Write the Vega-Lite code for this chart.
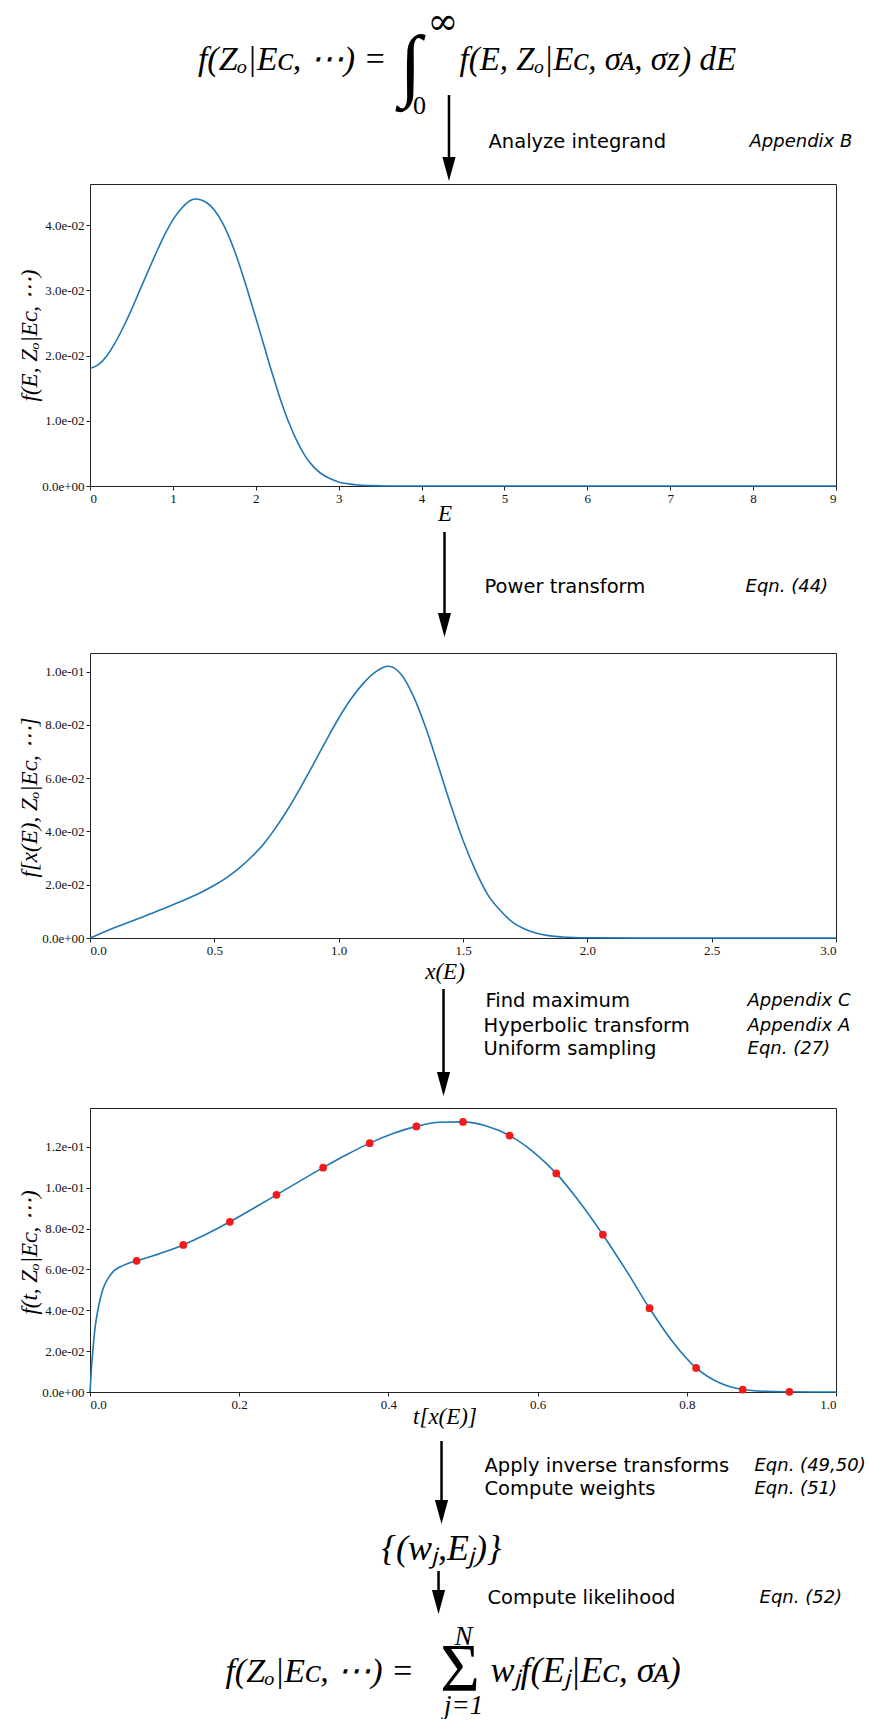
{
  "$schema": "https://vega.github.io/schema/vega-lite/v6.json",
  "autosize": {"type": "pad"},
  "padding": {"left": 17, "top": 0, "right": 0, "bottom": 0},
  "background": "white",
  "spacing": 0,
  "bounds": "flush",
  "config": {
    "view": {"stroke": null},
    "axis": {"grid": false, "domain": false, "tickColor": "#222", "tickSize": 4, "labelPadding": 2, "labelFont": "Liberation Serif", "labelFontSize": 13, "labelColor": "#111", "titleFont": "Liberation Serif", "titleFontStyle": "italic", "titleFontWeight": "normal", "titleFontSize": 23, "titleColor": "#000"}
  },
  "datasets": {
    "f1": [
      {"E": 0.0, "f": 0.0180}, {"E": 0.1, "f": 0.0186}, {"E": 0.2, "f": 0.0199}, {"E": 0.3, "f": 0.0219}, {"E": 0.4, "f": 0.0243},
      {"E": 0.5, "f": 0.0270}, {"E": 0.6, "f": 0.0300}, {"E": 0.7, "f": 0.0329}, {"E": 0.8, "f": 0.0358}, {"E": 0.9, "f": 0.0385},
      {"E": 1.0, "f": 0.0408}, {"E": 1.1, "f": 0.0425}, {"E": 1.2, "f": 0.0437}, {"E": 1.27, "f": 0.0440}, {"E": 1.35, "f": 0.0438},
      {"E": 1.4, "f": 0.0435}, {"E": 1.5, "f": 0.0423}, {"E": 1.6, "f": 0.0403}, {"E": 1.7, "f": 0.0375}, {"E": 1.8, "f": 0.0340},
      {"E": 1.9, "f": 0.0300}, {"E": 2.0, "f": 0.0258}, {"E": 2.1, "f": 0.0215}, {"E": 2.2, "f": 0.0172}, {"E": 2.3, "f": 0.0132},
      {"E": 2.4, "f": 0.0097}, {"E": 2.5, "f": 0.0068}, {"E": 2.6, "f": 0.0045}, {"E": 2.7, "f": 0.0029}, {"E": 2.8, "f": 0.0018},
      {"E": 2.9, "f": 0.0011}, {"E": 3.0, "f": 0.0006}, {"E": 3.2, "f": 0.0002}, {"E": 3.4, "f": 0.00005}, {"E": 3.6, "f": 0.00001},
      {"E": 4.0, "f": 0.0}, {"E": 6.0, "f": 0.0}, {"E": 9.0, "f": 0.0}
    ],
    "f2": [
      {"x": 0.0, "f": 0.0}, {"x": 0.05, "f": 0.0020}, {"x": 0.1, "f": 0.0039}, {"x": 0.15, "f": 0.0057}, {"x": 0.2, "f": 0.0075},
      {"x": 0.25, "f": 0.0093}, {"x": 0.3, "f": 0.0112}, {"x": 0.35, "f": 0.0131}, {"x": 0.4, "f": 0.0151}, {"x": 0.45, "f": 0.0173},
      {"x": 0.5, "f": 0.0198}, {"x": 0.55, "f": 0.0227}, {"x": 0.6, "f": 0.0262}, {"x": 0.65, "f": 0.0305}, {"x": 0.7, "f": 0.0355},
      {"x": 0.75, "f": 0.0418}, {"x": 0.8, "f": 0.0490}, {"x": 0.85, "f": 0.0570}, {"x": 0.9, "f": 0.0655}, {"x": 0.95, "f": 0.0742},
      {"x": 1.0, "f": 0.0825}, {"x": 1.05, "f": 0.0898}, {"x": 1.1, "f": 0.0957}, {"x": 1.15, "f": 0.1000}, {"x": 1.2, "f": 0.1020},
      {"x": 1.25, "f": 0.0991}, {"x": 1.3, "f": 0.0909}, {"x": 1.35, "f": 0.0790}, {"x": 1.4, "f": 0.0648}, {"x": 1.45, "f": 0.0502},
      {"x": 1.5, "f": 0.0367}, {"x": 1.55, "f": 0.0254}, {"x": 1.6, "f": 0.0162}, {"x": 1.65, "f": 0.0103}, {"x": 1.7, "f": 0.0059},
      {"x": 1.75, "f": 0.0033}, {"x": 1.8, "f": 0.0017}, {"x": 1.85, "f": 0.0008}, {"x": 1.9, "f": 0.0004}, {"x": 2.0, "f": 0.0001},
      {"x": 2.2, "f": 0.0}, {"x": 3.0, "f": 0.0}
    ],
    "f3": [
      {"t": 0.0, "f": 0.0}, {"t": 0.002, "f": 0.012}, {"t": 0.004, "f": 0.021}, {"t": 0.007, "f": 0.032}, {"t": 0.010, "f": 0.039},
      {"t": 0.014, "f": 0.046}, {"t": 0.018, "f": 0.051}, {"t": 0.024, "f": 0.0555}, {"t": 0.031, "f": 0.0589}, {"t": 0.040, "f": 0.0612},
      {"t": 0.050, "f": 0.0628}, {"t": 0.0625, "f": 0.0642}, {"t": 0.09375, "f": 0.0678}, {"t": 0.125, "f": 0.0720}, {"t": 0.15625, "f": 0.0773},
      {"t": 0.1875, "f": 0.0833}, {"t": 0.21875, "f": 0.0898}, {"t": 0.25, "f": 0.0965}, {"t": 0.28125, "f": 0.1032}, {"t": 0.3125, "f": 0.1098},
      {"t": 0.34375, "f": 0.1161}, {"t": 0.375, "f": 0.1218}, {"t": 0.40625, "f": 0.1265}, {"t": 0.4375, "f": 0.1300}, {"t": 0.46875, "f": 0.1320},
      {"t": 0.5, "f": 0.1322}, {"t": 0.53125, "f": 0.1302}, {"t": 0.5625, "f": 0.1255}, {"t": 0.59375, "f": 0.1177}, {"t": 0.625, "f": 0.1070},
      {"t": 0.65625, "f": 0.0930}, {"t": 0.6875, "f": 0.0770}, {"t": 0.71875, "f": 0.0595}, {"t": 0.75, "f": 0.0410}, {"t": 0.78125, "f": 0.0245},
      {"t": 0.8125, "f": 0.0118}, {"t": 0.84375, "f": 0.0045}, {"t": 0.875, "f": 0.0012}, {"t": 0.90625, "f": 0.0003}, {"t": 0.9375, "f": 0.0001},
      {"t": 0.96875, "f": 0.0}, {"t": 1.0, "f": 0.0}
    ],
    "p3": [
      {"t": 0.0625, "f": 0.0642}, {"t": 0.125, "f": 0.0720}, {"t": 0.1875, "f": 0.0833}, {"t": 0.25, "f": 0.0965}, {"t": 0.3125, "f": 0.1098},
      {"t": 0.375, "f": 0.1218}, {"t": 0.4375, "f": 0.1300}, {"t": 0.5, "f": 0.1322}, {"t": 0.5625, "f": 0.1255}, {"t": 0.625, "f": 0.1070},
      {"t": 0.6875, "f": 0.0770}, {"t": 0.75, "f": 0.0410}, {"t": 0.8125, "f": 0.0118}, {"t": 0.875, "f": 0.0012}, {"t": 0.9375, "f": 0.0001}
    ],
    "hdr": [
      {"kind": "shaft", "u": 0.4812, "v": 0.5163, "v2": 0.9185},
      {"kind": "head", "u": 0.4812, "v": 0.9185},
      {"kind": "eqR", "u": 0.3975, "v": 0.3804, "label": "f(Zₒ|Eᴄ, ⋯) ="},
      {"kind": "eqL", "u": 0.4953, "v": 0.3804, "label": "f(E, Zₒ|Eᴄ, σᴀ, σᴢ) dE"},
      {"kind": "int", "u": 0.4296, "v": 0.3640, "label": "∫"},
      {"kind": "inf", "u": 0.4732, "v": 0.125, "label": "∞"},
      {"kind": "lim", "u": 0.4417, "v": 0.5761, "label": "0"},
      {"kind": "step", "u": 0.5342, "v": 0.7717, "label": "Analyze integrand"},
      {"kind": "ref", "u": 0.8841, "v": 0.7717, "label": "Appendix B"}
    ],
    "mid1": [
      {"kind": "shaft", "u": 0.4752, "v": 0.2754, "v2": 0.8323},
      {"kind": "head", "u": 0.4752, "v": 0.8323},
      {"kind": "step", "u": 0.5288, "v": 0.6048, "label": "Power transform"},
      {"kind": "ref", "u": 0.8787, "v": 0.6048, "label": "Eqn. (44)"}
    ],
    "mid2": [
      {"kind": "shaft", "u": 0.4739, "v": 0.30, "v2": 0.8588},
      {"kind": "head", "u": 0.4739, "v": 0.8588},
      {"kind": "step", "u": 0.5302, "v": 0.3706, "label": "Find maximum"},
      {"kind": "step", "u": 0.5275, "v": 0.5176, "label": "Hyperbolic transform"},
      {"kind": "step", "u": 0.5275, "v": 0.6529, "label": "Uniform sampling"},
      {"kind": "ref", "u": 0.8814, "v": 0.3706, "label": "Appendix C"},
      {"kind": "ref", "u": 0.8814, "v": 0.5176, "label": "Appendix A"},
      {"kind": "ref", "u": 0.8814, "v": 0.6529, "label": "Eqn. (27)"}
    ],
    "ftr": [
      {"kind": "shaft", "u": 0.4712, "v": 0.1498, "v2": 0.367},
      {"kind": "head", "u": 0.4712, "v": 0.367},
      {"kind": "step", "u": 0.5288, "v": 0.2263, "label": "Apply inverse transforms"},
      {"kind": "step", "u": 0.5288, "v": 0.2966, "label": "Compute weights"},
      {"kind": "ref", "u": 0.8907, "v": 0.2263, "label": "Eqn. (49,50)"},
      {"kind": "ref", "u": 0.8907, "v": 0.2966, "label": "Eqn. (51)"},
      {"kind": "eqM", "u": 0.4712, "v": 0.4801, "label": "{(wⱼ,Eⱼ)}"},
      {"kind": "shaft", "u": 0.4672, "v": 0.5474, "v2": 0.6422},
      {"kind": "head", "u": 0.4672, "v": 0.6422},
      {"kind": "step", "u": 0.5328, "v": 0.63, "label": "Compute likelihood"},
      {"kind": "ref", "u": 0.8975, "v": 0.63, "label": "Eqn. (52)"},
      {"kind": "eqR", "u": 0.4344, "v": 0.8869, "label": "f(Zₒ|Eᴄ, ⋯) ="},
      {"kind": "sum", "u": 0.4961, "v": 0.8502, "label": "Σ"},
      {"kind": "limI", "u": 0.5007, "v": 0.7492, "label": "N"},
      {"kind": "limI", "u": 0.5007, "v": 0.9602, "label": "j=1"},
      {"kind": "eqL2", "u": 0.5369, "v": 0.8869, "label": "wⱼf(Eⱼ|Eᴄ, σᴀ)"}
    ]
  },
  "vconcat": [
    {
      "width": 746, "height": 184,
      "data": {"name": "hdr"},
      "encoding": {
        "x": {"field": "u", "type": "quantitative", "scale": {"domain": [0, 1]}, "axis": null},
        "y": {"field": "v", "type": "quantitative", "scale": {"domain": [0, 1], "reverse": true}, "axis": null}
      },
      "layer": [
        {"transform": [{"filter": "datum.kind == 'shaft'"}], "mark": {"type": "rule", "strokeWidth": 2.5, "color": "black"}, "encoding": {"y2": {"field": "v2"}}},
        {"transform": [{"filter": "datum.kind == 'head'"}], "mark": {"type": "point", "shape": "M-0.55,-1L0.55,-1L0,1Z", "filled": true, "color": "black", "opacity": 1, "size": 576, "strokeWidth": 0}},
        {"transform": [{"filter": "datum.kind == 'eqR'"}], "mark": {"type": "text", "font": "Liberation Serif", "fontStyle": "italic", "fontSize": 34, "align": "right", "baseline": "alphabetic", "color": "black"}, "encoding": {"text": {"field": "label"}}},
        {"transform": [{"filter": "datum.kind == 'eqL'"}], "mark": {"type": "text", "font": "Liberation Serif", "fontStyle": "italic", "fontSize": 33, "align": "left", "baseline": "alphabetic", "color": "black"}, "encoding": {"text": {"field": "label"}}},
        {"transform": [{"filter": "datum.kind == 'int'"}], "mark": {"type": "text", "font": "DejaVu Sans", "fontWeight": 200, "fontSize": 80, "align": "center", "baseline": "middle", "color": "black"}, "encoding": {"text": {"field": "label"}}},
        {"transform": [{"filter": "datum.kind == 'inf'"}], "mark": {"type": "text", "font": "DejaVu Serif", "fontSize": 37, "align": "center", "baseline": "middle", "color": "black"}, "encoding": {"text": {"field": "label"}}},
        {"transform": [{"filter": "datum.kind == 'lim'"}], "mark": {"type": "text", "font": "Liberation Serif", "fontSize": 26, "align": "center", "baseline": "middle", "color": "black"}, "encoding": {"text": {"field": "label"}}},
        {"transform": [{"filter": "datum.kind == 'step'"}], "mark": {"type": "text", "font": "DejaVu Sans", "fontSize": 19.5, "align": "left", "baseline": "middle", "color": "black"}, "encoding": {"text": {"field": "label"}}},
        {"transform": [{"filter": "datum.kind == 'ref'"}], "mark": {"type": "text", "font": "DejaVu Sans", "fontStyle": "italic", "fontSize": 18, "align": "left", "baseline": "middle", "color": "black"}, "encoding": {"text": {"field": "label"}}}
      ]
    },
    {
      "width": 746, "height": 302,
      "view": {"stroke": "#222", "strokeWidth": 1},
      "data": {"name": "f1"},
      "mark": {"type": "line", "color": "#1f77b4", "strokeWidth": 1.6, "interpolate": "monotone"},
      "encoding": {
        "x": {"field": "E", "type": "quantitative", "scale": {"domain": [0, 9], "nice": false, "zero": false},
              "axis": {"title": "E", "values": [0, 1, 2, 3, 4, 5, 6, 7, 8, 9], "format": "d", "titleX": 354.5, "titleY": 27, "titleBaseline": "middle", "titleAlign": "center"}},
        "y": {"field": "f", "type": "quantitative", "scale": {"domain": [0, 0.0463], "nice": false},
              "axis": {"title": "f(E, Zₒ|Eᴄ, ⋯)", "values": [0, 0.01, 0.02, 0.03, 0.04], "labelExpr": "replace(replace(format(datum.value, '.1e'), 'e-', 'e-0'), 'e+0', 'e+00')", "titleX": -61, "titleY": 151, "titleAngle": -90, "titleBaseline": "middle", "titleAlign": "center"}}
      }
    },
    {
      "width": 746, "height": 167,
      "data": {"name": "mid1"},
      "encoding": {
        "x": {"field": "u", "type": "quantitative", "scale": {"domain": [0, 1]}, "axis": null},
        "y": {"field": "v", "type": "quantitative", "scale": {"domain": [0, 1], "reverse": true}, "axis": null}
      },
      "layer": [
        {"transform": [{"filter": "datum.kind == 'shaft'"}], "mark": {"type": "rule", "strokeWidth": 2.5, "color": "black"}, "encoding": {"y2": {"field": "v2"}}},
        {"transform": [{"filter": "datum.kind == 'head'"}], "mark": {"type": "point", "shape": "M-0.55,-1L0.55,-1L0,1Z", "filled": true, "color": "black", "opacity": 1, "size": 576, "strokeWidth": 0}},
        {"transform": [{"filter": "datum.kind == 'step'"}], "mark": {"type": "text", "font": "DejaVu Sans", "fontSize": 19.5, "align": "left", "baseline": "middle", "color": "black"}, "encoding": {"text": {"field": "label"}}},
        {"transform": [{"filter": "datum.kind == 'ref'"}], "mark": {"type": "text", "font": "DejaVu Sans", "fontStyle": "italic", "fontSize": 18, "align": "left", "baseline": "middle", "color": "black"}, "encoding": {"text": {"field": "label"}}}
      ]
    },
    {
      "width": 746, "height": 285,
      "view": {"stroke": "#222", "strokeWidth": 1},
      "data": {"name": "f2"},
      "mark": {"type": "line", "color": "#1f77b4", "strokeWidth": 1.6, "interpolate": "monotone"},
      "encoding": {
        "x": {"field": "x", "type": "quantitative", "scale": {"domain": [0, 3], "nice": false, "zero": false},
              "axis": {"title": "x(E)", "values": [0, 0.5, 1, 1.5, 2, 2.5, 3], "format": ".1f", "titleX": 354.5, "titleY": 33, "titleBaseline": "middle", "titleAlign": "center"}},
        "y": {"field": "f", "type": "quantitative", "scale": {"domain": [0, 0.107], "nice": false},
              "axis": {"title": "f[x(E), Zₒ|Eᴄ, ⋯]", "values": [0, 0.02, 0.04, 0.06, 0.08, 0.1], "labelExpr": "replace(replace(format(datum.value, '.1e'), 'e-', 'e-0'), 'e+0', 'e+00')", "titleX": -61, "titleY": 144, "titleAngle": -90, "titleBaseline": "middle", "titleAlign": "center"}}
      }
    },
    {
      "width": 746, "height": 170,
      "data": {"name": "mid2"},
      "encoding": {
        "x": {"field": "u", "type": "quantitative", "scale": {"domain": [0, 1]}, "axis": null},
        "y": {"field": "v", "type": "quantitative", "scale": {"domain": [0, 1], "reverse": true}, "axis": null}
      },
      "layer": [
        {"transform": [{"filter": "datum.kind == 'shaft'"}], "mark": {"type": "rule", "strokeWidth": 2.5, "color": "black"}, "encoding": {"y2": {"field": "v2"}}},
        {"transform": [{"filter": "datum.kind == 'head'"}], "mark": {"type": "point", "shape": "M-0.55,-1L0.55,-1L0,1Z", "filled": true, "color": "black", "opacity": 1, "size": 576, "strokeWidth": 0}},
        {"transform": [{"filter": "datum.kind == 'step'"}], "mark": {"type": "text", "font": "DejaVu Sans", "fontSize": 19.5, "align": "left", "baseline": "middle", "color": "black"}, "encoding": {"text": {"field": "label"}}},
        {"transform": [{"filter": "datum.kind == 'ref'"}], "mark": {"type": "text", "font": "DejaVu Sans", "fontStyle": "italic", "fontSize": 18, "align": "left", "baseline": "middle", "color": "black"}, "encoding": {"text": {"field": "label"}}}
      ]
    },
    {
      "width": 746, "height": 284,
      "view": {"stroke": "#222", "strokeWidth": 1},
      "encoding": {
        "x": {"field": "t", "type": "quantitative", "scale": {"domain": [0, 1], "nice": false, "zero": false},
              "axis": {"title": "t[x(E)]", "values": [0, 0.2, 0.4, 0.6, 0.8, 1], "format": ".1f", "titleX": 354.5, "titleY": 24, "titleBaseline": "middle", "titleAlign": "center"}},
        "y": {"field": "f", "type": "quantitative", "scale": {"domain": [0, 0.139], "nice": false},
              "axis": {"title": "f(t, Zₒ|Eᴄ, ⋯)", "values": [0, 0.02, 0.04, 0.06, 0.08, 0.1, 0.12], "labelExpr": "replace(replace(format(datum.value, '.1e'), 'e-', 'e-0'), 'e+0', 'e+00')", "titleX": -61, "titleY": 144, "titleAngle": -90, "titleBaseline": "middle", "titleAlign": "center"}}
      },
      "layer": [
        {"data": {"name": "f3"}, "mark": {"type": "line", "color": "#1f77b4", "strokeWidth": 1.6, "interpolate": "monotone"}},
        {"data": {"name": "p3"}, "mark": {"type": "point", "filled": true, "color": "#f41a1a", "opacity": 1, "size": 60, "shape": "circle"}}
      ]
    },
    {
      "width": 746, "height": 327,
      "data": {"name": "ftr"},
      "encoding": {
        "x": {"field": "u", "type": "quantitative", "scale": {"domain": [0, 1]}, "axis": null},
        "y": {"field": "v", "type": "quantitative", "scale": {"domain": [0, 1], "reverse": true}, "axis": null}
      },
      "layer": [
        {"transform": [{"filter": "datum.kind == 'shaft'"}], "mark": {"type": "rule", "strokeWidth": 2.5, "color": "black"}, "encoding": {"y2": {"field": "v2"}}},
        {"transform": [{"filter": "datum.kind == 'head'"}], "mark": {"type": "point", "shape": "M-0.55,-1L0.55,-1L0,1Z", "filled": true, "color": "black", "opacity": 1, "size": 576, "strokeWidth": 0}},
        {"transform": [{"filter": "datum.kind == 'step'"}], "mark": {"type": "text", "font": "DejaVu Sans", "fontSize": 19.5, "align": "left", "baseline": "middle", "color": "black"}, "encoding": {"text": {"field": "label"}}},
        {"transform": [{"filter": "datum.kind == 'ref'"}], "mark": {"type": "text", "font": "DejaVu Sans", "fontStyle": "italic", "fontSize": 18, "align": "left", "baseline": "middle", "color": "black"}, "encoding": {"text": {"field": "label"}}},
        {"transform": [{"filter": "datum.kind == 'eqM'"}], "mark": {"type": "text", "font": "Liberation Serif", "fontStyle": "italic", "fontSize": 36, "align": "center", "baseline": "middle", "color": "black"}, "encoding": {"text": {"field": "label"}}},
        {"transform": [{"filter": "datum.kind == 'eqR'"}], "mark": {"type": "text", "font": "Liberation Serif", "fontStyle": "italic", "fontSize": 34, "align": "right", "baseline": "alphabetic", "color": "black"}, "encoding": {"text": {"field": "label"}}},
        {"transform": [{"filter": "datum.kind == 'eqL2'"}], "mark": {"type": "text", "font": "Liberation Serif", "fontStyle": "italic", "fontSize": 36, "align": "left", "baseline": "alphabetic", "color": "black"}, "encoding": {"text": {"field": "label"}}},
        {"transform": [{"filter": "datum.kind == 'sum'"}], "mark": {"type": "text", "font": "Liberation Serif", "fontSize": 68, "align": "center", "baseline": "middle", "color": "black"}, "encoding": {"text": {"field": "label"}}},
        {"transform": [{"filter": "datum.kind == 'limI'"}], "mark": {"type": "text", "font": "Liberation Serif", "fontStyle": "italic", "fontSize": 27, "align": "center", "baseline": "middle", "color": "black"}, "encoding": {"text": {"field": "label"}}}
      ]
    }
  ]
}
